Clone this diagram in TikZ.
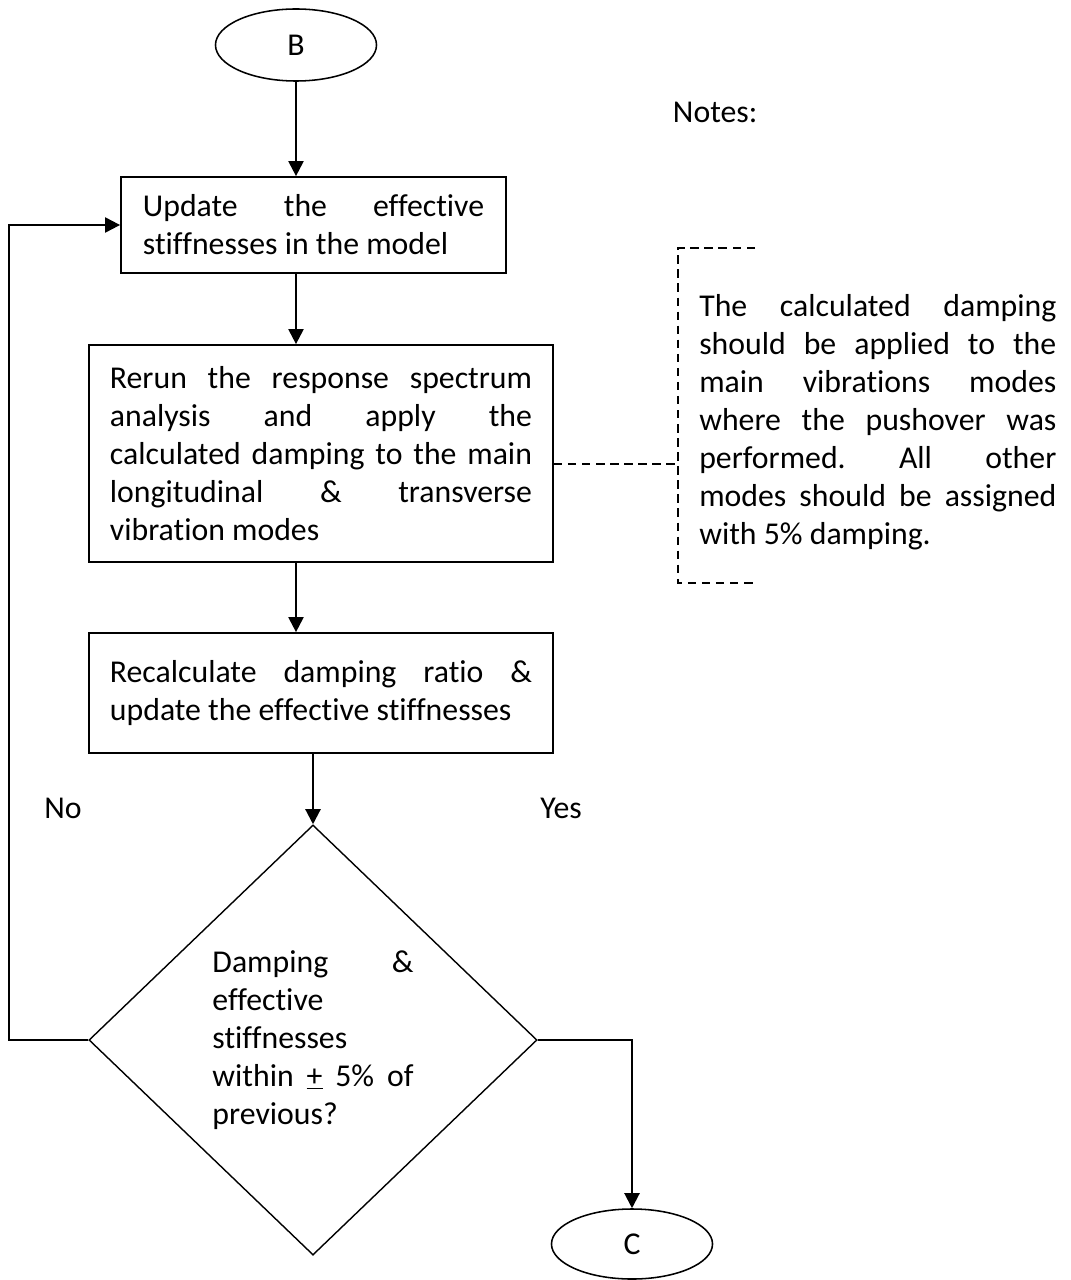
\documentclass[tikz,border=0pt]{standalone}
\usepackage{fontspec}
\setmainfont{Carlito}[Ligatures=NoCommon]
\usepackage{tikz}
\usetikzlibrary{arrows.meta, shapes.geometric, positioning, calc}
\hyphenpenalty=10000
\exhyphenpenalty=10000
\frenchspacing

\begin{document}
\begin{tikzpicture}[x=0.025cm, y=-0.025cm,
    font=\fontsize{22.6}{27}\selectfont,
    procbox/.style={draw, line width=1.2pt, rectangle, align=justify, inner ysep=0pt},
    term/.style={draw, line width=1.1pt, ellipse, inner sep=0pt, minimum width=4.025cm},
    flow/.style={line width=1.5pt, -{Triangle[length=0.375cm, width=0.375cm]}},
    notedash/.style={line width=1pt, dash pattern=on 6pt off 4pt}]
    \useasboundingbox (0,0) rectangle (1070,1280);

    % Terminals
    \node[term, minimum height=1.8cm] (startB) at (296,45) {B};
    \node[term, minimum height=1.75cm] (endC) at (632,1244) {C};

    % Process boxes
    \node[procbox, text width=8.525cm, inner xsep=0.55cm, minimum height=2.4cm] (update) at (313.5,225)
        {Update the effective\linebreak stiffnesses in the model};
    \node[procbox, text width=10.55cm, inner xsep=0.525cm, minimum height=5.425cm] (rerun) at (321,453.5)
        {Rerun the response spectrum\linebreak analysis and apply the\linebreak calculated damping to the main\linebreak longitudinal \& transverse\linebreak vibration modes};
    \node[procbox, text width=10.55cm, inner xsep=0.525cm, minimum height=3cm] (recalc) at (321,693)
        {Recalculate damping ratio \&\linebreak update the effective stiffnesses};

    % Decision
    \node[draw, diamond, line width=1pt, inner sep=0pt, minimum width=11.2cm, minimum height=10.75cm,
        text width=5.025cm, align=justify] (check) at (313,1040)
        {Damping \&\linebreak effective\\ stiffnesses\\ within \underline{+} 5\% of\linebreak previous?};

    % Labels
    \node (lblNo) at (63,808) {No};
    \node (lblYes) at (561,808) {Yes};
    \node[anchor=west] (lblNotes) at (668,112) {Notes:};

    % Note text with dashed bracket
    \node[text width=8.925cm, align=justify, inner sep=0pt, anchor=west] (notes) at (699,422)
        {The calculated damping\linebreak should be applied to the\linebreak main vibrations modes\linebreak where the pushover was\linebreak performed. All other\linebreak modes should be assigned\linebreak with 5\% damping.};
    \coordinate (brk) at (678,464);
    \draw[notedash] (755,248) -- (678,248) -- (678,583) -- (755,583);
    \draw[notedash] (rerun.east |- brk) -- (brk);

    % Connectors
    \draw[flow] (startB.south) -- (startB.south |- update.north);
    \draw[flow] (update.south -| startB) -- (rerun.north -| startB);
    \draw[flow] (rerun.south -| startB) -- (recalc.north -| startB);
    \draw[flow] (recalc.south -| check) -- (check.north);
    \coordinate (loopL) at (9,1040);
    \draw[flow] (check.west) -- (loopL) |- (update.west);
    \draw[flow] (check.east) -| (endC.north);
\end{tikzpicture}
\end{document}
